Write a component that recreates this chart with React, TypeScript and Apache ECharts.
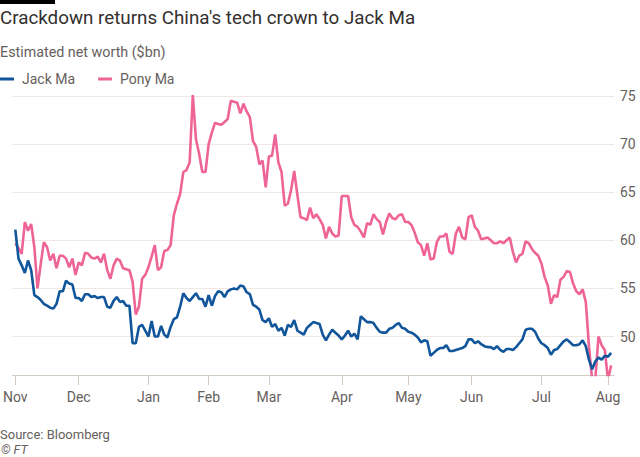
import React, { useEffect, useRef } from "react";
import * as echarts from "echarts";

// Trading days (US market calendar) from Nov 2, 2020 to Aug 3, 2021
const START_DATE = "2020-11-02";
const END_DATE = "2021-08-03";
const HOLIDAYS = [
  "2020-11-26",
  "2020-12-25",
  "2021-01-01",
  "2021-01-18",
  "2021-02-15",
  "2021-04-02",
  "2021-05-31",
  "2021-07-05",
];
const MONTH_NAMES = ["Jan", "Feb", "Mar", "Apr", "May", "Jun", "Jul", "Aug", "Sep", "Oct", "Nov", "Dec"];
const Y_TICKS = [50, 55, 60, 65, 70, 75];

// Estimated net worth ($bn)
const JACK_MA = [
  61.1, 58.1, 57.4, 56.6, 57.9, 56.9, 54.3, 54.1, 53.8, 53.4,
  53.2, 53.0, 52.9, 53.4, 54.7, 54.7, 55.8, 55.5, 55.4, 54.0,
  54.0, 53.7, 54.4, 54.4, 54.1, 54.2, 54.0, 54.1, 54.1, 53.1,
  53.0, 53.7, 54.1, 53.6, 53.7, 53.2, 53.2, 49.3, 49.3, 51.0,
  51.2, 50.6, 50.0, 51.6, 50.0, 50.0, 51.1, 50.2, 49.9, 51.0,
  51.8, 52.0, 53.1, 54.5, 54.0, 53.7, 54.1, 54.5, 53.9, 53.9,
  53.1, 54.3, 53.2, 54.2, 54.7, 54.6, 54.1, 54.7, 54.9, 55.0,
  54.9, 55.3, 55.2, 54.6, 54.4, 53.3, 53.1, 52.8, 51.7, 51.5,
  51.9, 51.0, 51.3, 50.6, 50.9, 50.1, 51.2, 51.0, 51.7, 50.6,
  50.4, 50.2, 50.9, 51.2, 51.5, 51.4, 51.3, 50.2, 49.6, 50.2,
  50.7, 50.4, 50.1, 49.7, 50.1, 50.6, 50.0, 50.3, 49.7, 52.1,
  51.8, 51.5, 51.5, 51.4, 50.9, 50.5, 50.4, 50.4, 50.8, 50.9,
  51.2, 51.4, 50.9, 50.8, 50.5, 50.4, 50.2, 49.9, 49.4, 49.6,
  49.5, 48.0, 48.3, 48.6, 48.8, 48.8, 49.1, 48.5, 48.5, 48.6,
  48.7, 48.8, 49.0, 49.7, 49.7, 49.3, 49.5, 49.2, 49.0, 48.9,
  48.9, 48.7, 49.0, 48.6, 48.4, 48.7, 48.7, 48.6, 48.9, 49.3,
  49.7, 50.7, 50.8, 50.8, 50.5, 49.8, 49.3, 49.1, 48.8, 48.1,
  48.6, 48.7, 49.1, 49.5, 49.7, 49.4, 49.1, 49.1, 49.2, 49.6,
  49.0, 47.6, 46.6, 47.4, 47.8, 47.6, 48.0, 47.9, 48.3,
];

const PONY_MA = [
  59.7, 59.2, 58.6, 61.9, 61.0, 61.7, 59.3, 55.0, 57.5, 59.8,
  59.3, 57.9, 58.6, 57.1, 58.4, 58.4, 58.1, 57.2, 58.1, 56.4,
  57.7, 57.4, 58.7, 58.6, 58.2, 58.1, 58.3, 57.7, 58.6, 56.9,
  56.0, 57.4, 58.1, 57.9, 57.1, 57.0, 56.9, 55.7, 52.3, 53.1,
  56.0, 56.4, 57.2, 58.3, 59.5, 56.9, 57.2, 58.9, 59.0, 59.5,
  62.6, 63.8, 64.8, 67.1, 67.3, 68.1, 75.1, 70.5, 69.0, 67.1,
  67.1, 70.0, 71.2, 72.2, 72.1, 72.0, 72.3, 72.6, 74.5, 74.4,
  74.3, 73.2, 74.2, 73.4, 72.8, 70.3, 69.7, 67.9, 68.3, 65.5,
  68.7, 68.8, 71.0, 68.1, 67.1, 63.6, 63.8, 65.2, 67.2, 64.7,
  62.4, 62.3, 62.1, 63.4, 62.3, 62.7, 62.2, 61.6, 60.2, 61.4,
  60.7, 60.4, 60.5, 64.6, 64.6, 64.6, 62.4, 61.6, 61.4, 60.9,
  60.3, 61.8, 61.6, 62.7, 62.2, 61.9, 60.6, 61.9, 62.8, 62.3,
  62.2, 62.6, 62.7, 61.9, 61.9, 61.6, 60.8, 59.8, 59.5, 58.4,
  59.7, 58.0, 58.1, 59.8, 60.4, 60.4, 60.7, 58.8, 58.6, 60.7,
  61.4, 60.3, 60.1, 62.4, 62.6, 61.4, 61.0, 60.1, 60.2, 60.3,
  60.0, 59.7, 59.7, 59.9, 59.7, 60.0, 60.3, 58.8, 57.7, 58.4,
  58.6, 59.9, 59.7, 59.1, 58.7, 58.4, 57.6, 56.2, 55.3, 53.4,
  54.3, 54.1, 55.9, 56.2, 56.8, 56.7, 55.5, 54.7, 54.4, 54.9,
  53.6, 49.0, 45.5, 45.5, 50.0, 49.1, 48.6, 45.5, 47.0,
];

const FONT = "Roboto, 'Noto Sans', sans-serif";
const TITLE_COLOR = "#33302e";
const MUTED = "#66605c";
const JACK_COLOR = "#11559b";
const PONY_COLOR = "#ef6496";

function tradingDays(): string[] {
  const out: string[] = [];
  const d = new Date(START_DATE + "T00:00:00Z");
  const end = new Date(END_DATE + "T00:00:00Z");
  while (d.getTime() <= end.getTime()) {
    const wd = d.getUTCDay();
    const s = d.toISOString().slice(0, 10);
    if (wd !== 0 && wd !== 6 && HOLIDAYS.indexOf(s) < 0) out.push(s);
    d.setUTCDate(d.getUTCDate() + 1);
  }
  return out;
}

export default function App() {
  const ref = useRef<HTMLDivElement>(null);

  useEffect(() => {
    if (!ref.current) return;
    const chart = echarts.init(ref.current, undefined, { renderer: "svg" });

    const dates = tradingDays();
    const monthStarts: number[] = [];
    const monthLabel: Record<number, string> = {};
    dates.forEach((s, i) => {
      const m = s.slice(0, 7);
      if (i === 0 || dates[i - 1].slice(0, 7) !== m) {
        monthStarts.push(i);
        monthLabel[i] = MONTH_NAMES[parseInt(s.slice(5, 7), 10) - 1];
      }
    });

    const option: any = {
      animation: false,
      backgroundColor: "#ffffff",
      textStyle: { fontFamily: FONT },
      graphic: [
        { type: "rect", left: 0, top: 0, shape: { width: 55, height: 4 }, style: { fill: "#000000" } },
        {
          type: "text",
          left: 0,
          top: 8,
          style: {
            text: "Crackdown returns China's tech crown to Jack Ma",
            fontSize: 18.8,
            fontFamily: FONT,
            fill: TITLE_COLOR,
          },
        },
        {
          type: "text",
          left: 0,
          top: 45,
          style: { text: "Estimated net worth ($bn)", fontSize: 14.3, fontFamily: FONT, fill: MUTED },
        },
        {
          type: "text",
          left: 0,
          top: 427,
          style: { text: "Source: Bloomberg", fontSize: 13, lineHeight: 14, fontFamily: FONT, fill: MUTED },
        },
        {
          type: "text",
          left: 1,
          top: 443,
          style: {
            text: "© FT",
            fontSize: 12.5,
            lineHeight: 13,
            fontStyle: "italic",
            fontFamily: FONT,
            fill: MUTED,
          },
        },
      ],
      legend: {
        left: 0,
        top: 72,
        icon: "rect",
        itemWidth: 14,
        itemHeight: 3,
        itemGap: 23,
        padding: 0,
        textStyle: { color: MUTED, fontSize: 14, fontFamily: FONT, padding: [0, 0, 0, 3] },
        data: ["Jack Ma", "Pony Ma"],
      },
      grid: { left: 12, right: 26, top: 96, bottom: 82, containLabel: false },
      xAxis: {
        type: "value",
        min: -0.9,
        max: dates.length - 1 + 0.9,
        splitLine: { show: false },
        axisLine: { show: true, lineStyle: { color: "#d4cbc3", width: 1 } },
        axisTick: {
          show: true,
          length: 10,
          customValues: monthStarts,
          lineStyle: { color: "#d4cbc3", width: 1 },
        },
        axisLabel: {
          customValues: monthStarts,
          margin: 15,
          color: MUTED,
          fontSize: 14,
          fontFamily: FONT,
          formatter: (v: number) => monthLabel[Math.round(v)] || "",
        },
      },
      yAxis: {
        type: "value",
        position: "right",
        min: 46,
        max: 75,
        axisLine: { show: false },
        axisTick: { show: false, customValues: Y_TICKS },
        axisLabel: {
          customValues: Y_TICKS,
          margin: 6,
          color: MUTED,
          fontSize: 14,
          fontFamily: FONT,
        },
        splitLine: { show: true, lineStyle: { color: "#efe7e1", width: 1 } },
      },
      series: [
        {
          name: "Jack Ma",
          type: "line",
          data: JACK_MA.map((v, i) => [i, v]),
          showSymbol: false,
          symbol: "none",
          clip: true,
          lineStyle: { color: JACK_COLOR, width: 2.6 },
          itemStyle: { color: JACK_COLOR },
          z: 3,
        },
        {
          name: "Pony Ma",
          type: "line",
          data: PONY_MA.map((v, i) => [i, v]),
          showSymbol: false,
          symbol: "none",
          clip: true,
          lineStyle: { color: PONY_COLOR, width: 2.6 },
          itemStyle: { color: PONY_COLOR },
          z: 2,
        },
      ],
    };

    chart.setOption(option);
    return () => chart.dispose();
  }, []);

  return (
    <div
      ref={ref}
      style={{ position: "fixed", left: 0, top: 0, width: 640, height: 457, background: "#fff" }}
    />
  );
}
